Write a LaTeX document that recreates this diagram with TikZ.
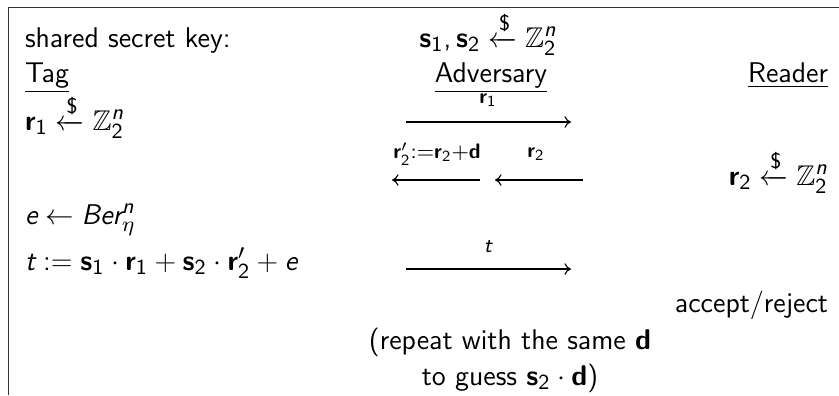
\documentclass[tikz,border=0pt]{standalone}
\usepackage{fix-cm}
\usepackage{amsmath,amssymb}
\usetikzlibrary{arrows.meta}
\renewcommand{\familydefault}{\sfdefault}
\DeclareSymbolFont{sfletters}{TU}{lmss}{m}{sl}
\SetSymbolFont{operators}{normal}{TU}{lmss}{m}{n}
\DeclareMathSymbol{e}{\mathalpha}{sfletters}{`e}
\DeclareMathSymbol{t}{\mathalpha}{sfletters}{`t}
\DeclareMathSymbol{n}{\mathalpha}{sfletters}{`n}
\DeclareMathSymbol{B}{\mathalpha}{sfletters}{`B}
\DeclareMathSymbol{r}{\mathalpha}{sfletters}{`r}
\DeclareMathSymbol{,}{\mathpunct}{operators}{`,}
\DeclareMathAlphabet{\mathbf}{TU}{lmss}{bx}{n}
\DeclareMathSizes{11.4}{11.4}{8.6}{6.4}
\DeclareMathSizes{8.4}{8.4}{6.2}{5}
\begin{document}
\begin{tikzpicture}[x=0.4pt,y=-0.4pt,
  every node/.style={font=\fontsize{11.4}{14}\selectfont},
  txt/.style={inner sep=0pt, outer sep=0pt},
  lbl/.style={inner sep=0pt, outer sep=0pt, font=\fontsize{8.4}{10}\selectfont},
  msg/.style={-{To[length=2.6pt,width=4.6pt]}, line width=0.45pt},
  frame/.style={draw=black!80, line width=0.6pt}]
\useasboundingbox (0,0) rectangle (839,395);
\draw[frame] (839,7.5) -- (8.5,7.5) -- (8.5,395);

\node[txt, anchor=base west] (key) at (25,47) {shared secret key:};
\node[txt, anchor=base] (keys) at (488,47) {$\mathbf{s}_1,\mathbf{s}_2 \xleftarrow{\$} \mathbb{Z}_2^n$};
\node[txt, anchor=base west] (tag) at (25,82) {\underline{Tag}};
\node[txt, anchor=base] (adv) at (491,82) {\underline{Adversary}};
\node[txt, anchor=base east] (rdr) at (828,82) {\underline{Reader}};

\node[txt, anchor=base west] (r1) at (25,130) {$\mathbf{r}_1 \xleftarrow{\$} \mathbb{Z}_2^n$};
\node[lbl] (l1) at (488,100) {$\mathbf{r}_1$};
\coordinate (a1s) at (406,122);
\coordinate (a1e) at (571,122);
\draw[msg] (a1s) -- (a1e);

\node[lbl] (l2) at (437,154) {$\mathbf{r}_2'{:=}\mathbf{r}_2{+}\mathbf{d}$};
\coordinate (a2s) at (480,180);
\coordinate (a2e) at (392,180);
\draw[msg] (a2s) -- (a2e);
\node[lbl] (l3) at (536,154) {$\mathbf{r}_2$};
\coordinate (a3s) at (583,180);
\coordinate (a3e) at (495,180);
\draw[msg] (a3s) -- (a3e);
\node[txt, anchor=base east] (r2) at (828,185) {$\mathbf{r}_2 \xleftarrow{\$} \mathbb{Z}_2^n$};

\node[txt, anchor=base west] (e) at (25,224) {$e \leftarrow Ber_\eta^n$};
\node[txt, anchor=base west] (t) at (25,270) {$t := \mathbf{s}_1\cdot\mathbf{r}_1 + \mathbf{s}_2\cdot\mathbf{r}_2' + e$};
\node[lbl] (lt) at (488,247) {$t$};
\coordinate (a4s) at (406,269);
\coordinate (a4e) at (571,269);
\draw[msg] (a4s) -- (a4e);

\node[txt, anchor=base east] (acc) at (828,312) {accept/reject};
\node[txt, anchor=base] (rep1) at (510,349) {(repeat with the same $\mathbf{d}$};
\node[txt, anchor=base] (rep2) at (510,385) {to guess $\mathbf{s}_2\cdot\mathbf{d}$)};
\end{tikzpicture}
\end{document}
